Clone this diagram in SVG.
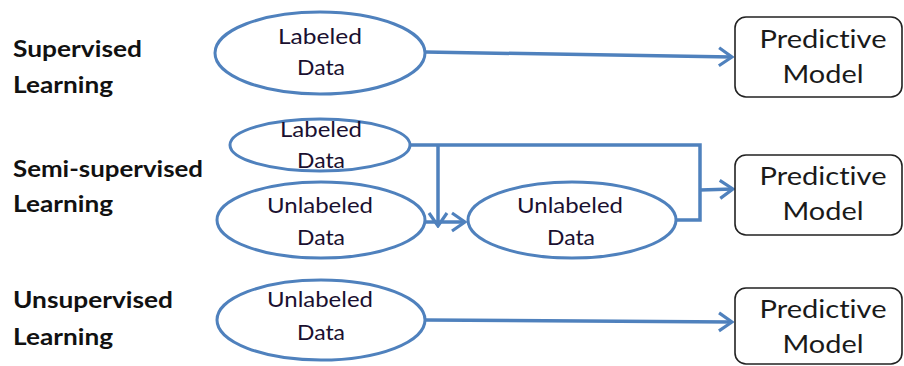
<svg xmlns="http://www.w3.org/2000/svg" width="904" height="366" viewBox="0 0 904 366">
<defs>
<marker id="arr" viewBox="-16 -11 18 22" markerWidth="18" markerHeight="22" refX="0" refY="0" orient="auto" markerUnits="userSpaceOnUse">
<path d="M-13,-9 L0,0 L-13,9" fill="none" stroke="#4F81BD" stroke-width="3.2" stroke-linejoin="miter"/>
</marker>
<style>
.ell{fill:#fff;stroke:#4F81BD;stroke-width:3}
.box{fill:#fff;stroke:#222;stroke-width:1.6}
.con{fill:none;stroke:#4F81BD;stroke-width:3.5}
text{font-variant-ligatures:none;font-feature-settings:"liga" 0,"clig" 0}
.lbl{font-family:Lato,"Liberation Sans",sans-serif;font-weight:bold;font-size:22px;fill:#111}
.et{font-family:Lato,"Liberation Sans",sans-serif;font-size:21px;fill:#1a1030;text-anchor:middle}
.bt{font-family:Lato,"Liberation Sans",sans-serif;font-size:25px;fill:#1a1a1a;text-anchor:middle}
</style>
</defs>
<rect width="904" height="366" fill="#fff"/>
<g id="labels">
<text class="lbl" x="13" y="57" textLength="129" lengthAdjust="spacingAndGlyphs">Supervised</text>
<text class="lbl" x="13" y="93" textLength="100" lengthAdjust="spacingAndGlyphs">Learning</text>
<text class="lbl" x="13" y="177" textLength="190" lengthAdjust="spacingAndGlyphs">Semi-supervised</text>
<text class="lbl" x="13" y="212" textLength="100" lengthAdjust="spacingAndGlyphs">Learning</text>
<text class="lbl" x="13" y="308" textLength="160" lengthAdjust="spacingAndGlyphs">Unsupervised</text>
<text class="lbl" x="13" y="345" textLength="100" lengthAdjust="spacingAndGlyphs">Learning</text>
</g>
<g id="connectors">
<path class="con" d="M425,52 L732,57" marker-end="url(#arr)"/>
<path class="con" d="M410,145 L700,145 L700,220 L677,220"/>
<path class="con" d="M700,190 L733,189" marker-end="url(#arr)"/>
<path class="con" d="M438,145 L438,226" marker-end="url(#arr)"/>
<path class="con" d="M425,222 L465,222" marker-end="url(#arr)"/>
<path class="con" d="M425,320 L732,322" marker-end="url(#arr)"/>
</g>
<g id="sup-labeled">
<ellipse class="ell" cx="320" cy="53" rx="105" ry="41"/>
<text class="et" x="320" y="44" textLength="84" lengthAdjust="spacingAndGlyphs">Labeled</text>
<text class="et" x="321" y="75" textLength="48" lengthAdjust="spacingAndGlyphs">Data</text>
</g>
<g id="semi-labeled">
<ellipse class="ell" cx="320" cy="145" rx="90" ry="26"/>
<text class="et" x="321" y="137" textLength="82" lengthAdjust="spacingAndGlyphs">Labeled</text>
<text class="et" x="321" y="168" textLength="48" lengthAdjust="spacingAndGlyphs">Data</text>
</g>
<g id="semi-unlabeled">
<ellipse class="ell" cx="321" cy="220" rx="104" ry="38"/>
<text class="et" x="320" y="213" textLength="106" lengthAdjust="spacingAndGlyphs">Unlabeled</text>
<text class="et" x="321" y="245" textLength="48" lengthAdjust="spacingAndGlyphs">Data</text>
</g>
<g id="semi-unlabeled-2">
<ellipse class="ell" cx="572" cy="220" rx="104" ry="38"/>
<text class="et" x="570" y="213" textLength="106" lengthAdjust="spacingAndGlyphs">Unlabeled</text>
<text class="et" x="571" y="245" textLength="48" lengthAdjust="spacingAndGlyphs">Data</text>
</g>
<g id="unsup-unlabeled">
<ellipse class="ell" cx="321" cy="320" rx="104" ry="40"/>
<text class="et" x="320" y="307" textLength="106" lengthAdjust="spacingAndGlyphs">Unlabeled</text>
<text class="et" x="321" y="340" textLength="48" lengthAdjust="spacingAndGlyphs">Data</text>
</g>
<g id="model-1">
<rect class="box" x="735" y="17" width="167" height="80" rx="11"/>
<text class="bt" x="823" y="48" textLength="127" lengthAdjust="spacingAndGlyphs">Predictive</text>
<text class="bt" x="823" y="83" textLength="81" lengthAdjust="spacingAndGlyphs">Model</text>
</g>
<g id="model-2">
<rect class="box" x="735" y="155" width="167" height="80" rx="11"/>
<text class="bt" x="823" y="185" textLength="127" lengthAdjust="spacingAndGlyphs">Predictive</text>
<text class="bt" x="823" y="220" textLength="81" lengthAdjust="spacingAndGlyphs">Model</text>
</g>
<g id="model-3">
<rect class="box" x="735" y="288" width="167" height="76" rx="11"/>
<text class="bt" x="823" y="318" textLength="127" lengthAdjust="spacingAndGlyphs">Predictive</text>
<text class="bt" x="823" y="353" textLength="81" lengthAdjust="spacingAndGlyphs">Model</text>
</g>
</svg>
